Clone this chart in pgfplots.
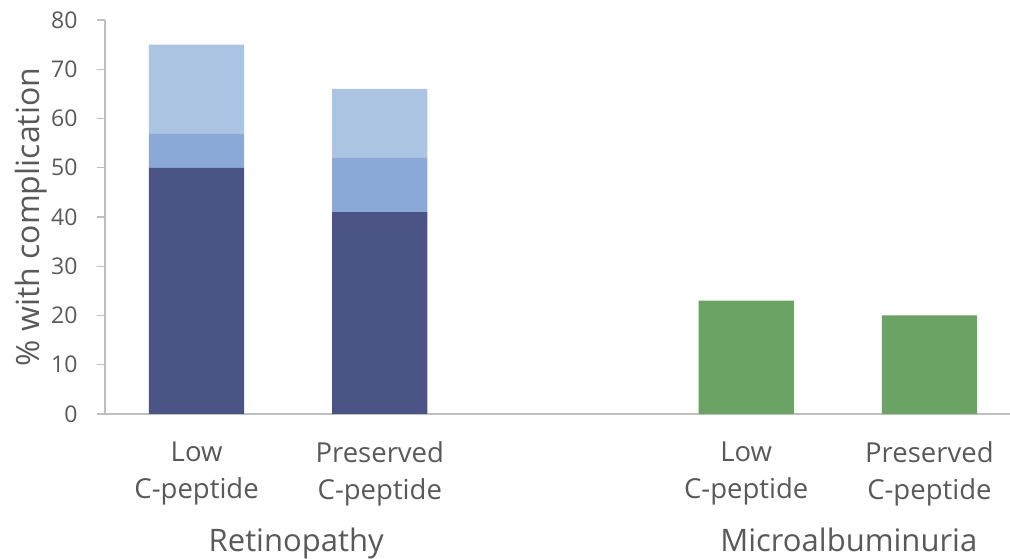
\documentclass[border=0pt]{standalone}
\usepackage{pgfplots}
\pgfplotsset{compat=1.18}
\usepackage{fontspec}
\setmainfont{Open Sans}
\definecolor{txt}{HTML}{595959}
\definecolor{axln}{HTML}{BFBFBF}
\definecolor{dark}{HTML}{4A5585}
\definecolor{mid}{HTML}{8AA9D6}
\definecolor{light}{HTML}{ABC4E2}
\definecolor{grn}{HTML}{6AA364}
\begin{document}
\begin{tikzpicture}[x=1pt,y=1pt]
\begin{axis}[
    ybar stacked,
    scale only axis,
    width=905pt, height=394pt,
    bar width=0.52,
    xmin=-0.5, xmax=4.44,
    ymin=0, ymax=80,
    ytick={0,10,...,80},
    xtick={0,1,3,4},
    xticklabels={Low\\C-peptide, Preserved\\C-peptide, Low\\C-peptide, Preserved\\C-peptide},
    axis x line*=bottom, axis y line*=left,
    axis line style={axln, line width=1.2pt, -},
    every axis plot/.append style={draw=none},
    x tick style={draw=none},
    y tick style={axln, line width=1.2pt},
    tick align=outside, major tick length=8pt,
    /pgf/number format/assume math mode=true,
    yticklabel style={font=\fontsize{23}{27}\selectfont, text=txt, xshift=-16pt},
    xticklabel style={font=\fontsize{27.5}{37}\selectfont, text=txt, align=center, yshift=-16pt},
    ylabel={\% with complication},
    every axis y label/.style={at={(rel axis cs:0,0.5)}, rotate=90, anchor=center,
        yshift=74pt, font=\fontsize{32}{36}\selectfont, text=txt},
    clip=false,
]
\addplot[fill=dark] coordinates {(0,50) (1,41) (3,0) (4,0)};
\addplot[fill=mid] coordinates {(0,7) (1,11) (3,0) (4,0)};
\addplot[fill=light] coordinates {(0,18) (1,14) (3,0) (4,0)};
\addplot[fill=grn] coordinates {(0,0) (1,0) (3,23) (4,20)};
\coordinate (O) at (rel axis cs:0,0);
\node[font=\fontsize{31}{35}\selectfont, text=txt, anchor=base] at (axis cs:0.5,0) [xshift=8pt, yshift=-138pt] {Retinopathy};
\node[font=\fontsize{31}{35}\selectfont, text=txt, anchor=base] at (axis cs:3.5,0) [xshift=11pt, yshift=-138pt] {Microalbuminuria};
\end{axis}
\pgfresetboundingbox
\path (O) ++(-105pt,-145pt) rectangle ++(1010pt,559pt);
\end{tikzpicture}
\end{document}
